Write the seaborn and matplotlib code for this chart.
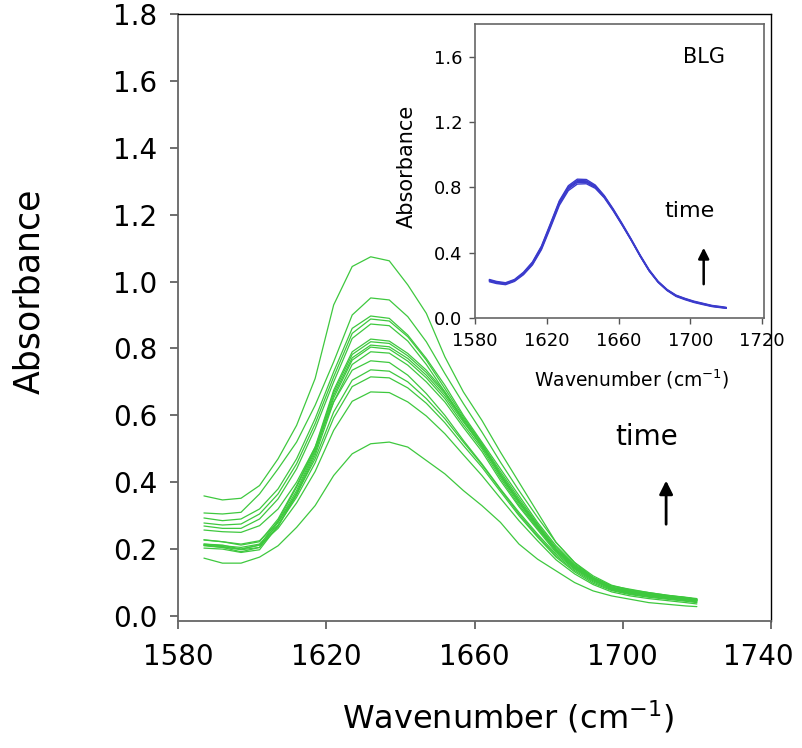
import numpy as np
import pandas as pd
import matplotlib
matplotlib.use("Agg")
import matplotlib.pyplot as plt
from matplotlib.transforms import ScaledTranslation
import seaborn as sns

sns.set_theme(style="white")
plt.rcParams["font.family"] = ["DejaVu Sans"]
plt.rcParams["text.color"] = "black"
plt.rcParams["axes.labelcolor"] = "black"

# ---------------- data ----------------
wavenumber = [1587, 1592, 1597, 1602, 1607, 1612, 1617, 1622, 1627, 1632, 1637, 1642, 1647, 1652,
              1657, 1662, 1667, 1672, 1677, 1682, 1687, 1692, 1697, 1702, 1707, 1712, 1717, 1720]

green_A = [0.359, 0.347, 0.352, 0.390, 0.470, 0.570, 0.710, 0.930, 1.045, 1.074, 1.062, 0.990, 0.905, 0.775,
           0.670, 0.585, 0.490, 0.400, 0.310, 0.220, 0.160, 0.115, 0.090, 0.080, 0.070, 0.062, 0.055, 0.050]
green_B = [0.308, 0.305, 0.310, 0.365, 0.440, 0.520, 0.630, 0.760, 0.900, 0.951, 0.945, 0.895, 0.820, 0.725,
           0.635, 0.550, 0.460, 0.375, 0.295, 0.220, 0.160, 0.120, 0.092, 0.078, 0.070, 0.062, 0.056, 0.052]
green_C = [0.293, 0.285, 0.290, 0.320, 0.380, 0.470, 0.590, 0.730, 0.860, 0.897, 0.890, 0.840, 0.770, 0.690,
           0.600, 0.520, 0.440, 0.360, 0.280, 0.210, 0.155, 0.115, 0.090, 0.076, 0.066, 0.060, 0.055, 0.050]
green_D = [0.278, 0.272, 0.275, 0.305, 0.365, 0.455, 0.575, 0.715, 0.845, 0.888, 0.882, 0.835, 0.765, 0.680,
           0.595, 0.515, 0.432, 0.352, 0.275, 0.205, 0.152, 0.112, 0.086, 0.074, 0.068, 0.060, 0.052, 0.048]
green_E = [0.269, 0.262, 0.262, 0.290, 0.350, 0.440, 0.560, 0.700, 0.830, 0.873, 0.868, 0.822, 0.752, 0.670,
           0.585, 0.505, 0.425, 0.345, 0.268, 0.200, 0.148, 0.110, 0.085, 0.072, 0.064, 0.058, 0.052, 0.046]
green_F = [0.227, 0.222, 0.212, 0.222, 0.290, 0.390, 0.505, 0.675, 0.790, 0.828, 0.822, 0.785, 0.735, 0.670,
           0.590, 0.515, 0.425, 0.345, 0.272, 0.200, 0.150, 0.115, 0.086, 0.074, 0.066, 0.060, 0.054, 0.050]
green_G = [0.215, 0.212, 0.200, 0.212, 0.285, 0.385, 0.500, 0.668, 0.782, 0.820, 0.815, 0.778, 0.728, 0.665,
           0.585, 0.510, 0.420, 0.340, 0.268, 0.198, 0.148, 0.112, 0.084, 0.072, 0.064, 0.058, 0.052, 0.048]
green_H = [0.210, 0.205, 0.192, 0.205, 0.280, 0.375, 0.495, 0.660, 0.772, 0.810, 0.805, 0.770, 0.720, 0.658,
           0.580, 0.508, 0.418, 0.338, 0.266, 0.196, 0.146, 0.112, 0.084, 0.072, 0.064, 0.058, 0.052, 0.048]
green_I = [0.203, 0.200, 0.190, 0.198, 0.270, 0.368, 0.488, 0.652, 0.765, 0.804, 0.798, 0.762, 0.712, 0.650,
           0.572, 0.500, 0.412, 0.332, 0.262, 0.194, 0.144, 0.110, 0.082, 0.070, 0.062, 0.056, 0.050, 0.046]
green_J = [0.212, 0.208, 0.198, 0.205, 0.268, 0.362, 0.480, 0.640, 0.752, 0.790, 0.786, 0.750, 0.700, 0.640,
           0.564, 0.492, 0.405, 0.327, 0.258, 0.190, 0.142, 0.108, 0.080, 0.068, 0.060, 0.054, 0.048, 0.044]
green_K = [0.257, 0.252, 0.250, 0.270, 0.320, 0.400, 0.505, 0.640, 0.735, 0.763, 0.758, 0.720, 0.665, 0.600,
           0.525, 0.455, 0.380, 0.310, 0.245, 0.185, 0.140, 0.105, 0.082, 0.070, 0.062, 0.056, 0.050, 0.045]
green_L = [0.228, 0.222, 0.215, 0.225, 0.280, 0.365, 0.470, 0.610, 0.705, 0.736, 0.732, 0.700, 0.650, 0.590,
           0.520, 0.452, 0.378, 0.305, 0.240, 0.180, 0.136, 0.102, 0.078, 0.066, 0.058, 0.052, 0.046, 0.042]
green_M = [0.215, 0.210, 0.205, 0.215, 0.272, 0.355, 0.458, 0.592, 0.686, 0.715, 0.712, 0.682, 0.636, 0.578,
           0.510, 0.445, 0.372, 0.300, 0.236, 0.176, 0.132, 0.098, 0.076, 0.064, 0.056, 0.050, 0.044, 0.040]
green_N = [0.212, 0.205, 0.200, 0.212, 0.262, 0.338, 0.432, 0.555, 0.642, 0.670, 0.668, 0.640, 0.598, 0.545,
           0.482, 0.420, 0.352, 0.285, 0.225, 0.168, 0.126, 0.094, 0.072, 0.060, 0.052, 0.046, 0.040, 0.036]
green_O = [0.173, 0.158, 0.158, 0.176, 0.210, 0.265, 0.330, 0.420, 0.485, 0.515, 0.520, 0.505, 0.465, 0.425,
           0.375, 0.330, 0.280, 0.215, 0.170, 0.135, 0.100, 0.075, 0.060, 0.050, 0.040, 0.035, 0.030, 0.028]

inset_wavenumber = [1588, 1592, 1597, 1602, 1607, 1612, 1617, 1622, 1627, 1632, 1637, 1642, 1647, 1652,
                    1657, 1662, 1667, 1672, 1677, 1682, 1687, 1692, 1697, 1702, 1707, 1712, 1717, 1720]
blue_1 = [0.227, 0.215, 0.208, 0.228, 0.270, 0.330, 0.425, 0.560, 0.700, 0.790, 0.830, 0.830, 0.800, 0.740,
          0.660, 0.570, 0.478, 0.380, 0.290, 0.220, 0.170, 0.135, 0.115, 0.098, 0.085, 0.072, 0.065, 0.061]
blue_2 = [0.232, 0.220, 0.212, 0.232, 0.276, 0.338, 0.435, 0.572, 0.712, 0.802, 0.842, 0.840, 0.808, 0.746,
          0.664, 0.574, 0.480, 0.382, 0.292, 0.222, 0.172, 0.138, 0.118, 0.100, 0.088, 0.075, 0.068, 0.063]
blue_3 = [0.222, 0.211, 0.204, 0.224, 0.265, 0.325, 0.418, 0.552, 0.690, 0.780, 0.820, 0.822, 0.794, 0.736,
          0.656, 0.568, 0.476, 0.378, 0.288, 0.218, 0.168, 0.132, 0.112, 0.095, 0.082, 0.070, 0.063, 0.059]
blue_4 = [0.236, 0.224, 0.216, 0.236, 0.280, 0.343, 0.440, 0.578, 0.718, 0.810, 0.850, 0.848, 0.814, 0.750,
          0.668, 0.578, 0.484, 0.386, 0.296, 0.225, 0.175, 0.140, 0.120, 0.103, 0.090, 0.077, 0.070, 0.065]
blue_5 = [0.230, 0.217, 0.210, 0.230, 0.273, 0.334, 0.430, 0.566, 0.706, 0.796, 0.836, 0.835, 0.804, 0.743,
          0.662, 0.572, 0.479, 0.381, 0.291, 0.221, 0.171, 0.136, 0.116, 0.099, 0.086, 0.073, 0.066, 0.062]

main_ticks_x = [1580, 1620, 1660, 1700, 1740]
main_ticks_y = [0.0, 0.2, 0.4, 0.6, 0.8, 1.0, 1.2, 1.4, 1.6, 1.8]
inset_ticks_x = [1580, 1620, 1660, 1700, 1740]
inset_ticklabels_x = ["1580", "1620", "1660", "1700", "1720"]
inset_ticks_y = [0.0, 0.4, 0.8, 1.2, 1.6]

# ---------------- tables ----------------
green_series = [green_A, green_B, green_C, green_D, green_E, green_F, green_G, green_H,
                green_I, green_J, green_K, green_L, green_M, green_N, green_O]
df_main = pd.concat([pd.DataFrame({"wn": wavenumber, "abs": s, "curve": i})
                     for i, s in enumerate(green_series)], ignore_index=True)
blue_series = [blue_1, blue_2, blue_3, blue_4, blue_5]
df_inset = pd.concat([pd.DataFrame({"wn": inset_wavenumber, "abs": s, "curve": i})
                      for i, s in enumerate(blue_series)], ignore_index=True)

GREEN = "#3ec83e"
BLUE = "#3b3bcc"
W, H = 802, 748

fig = plt.figure(figsize=(W / 100, H / 100), dpi=100)
fig.patch.set_facecolor("white")

# main axes
ax = fig.add_axes([178 / W, 1 - 621 / H, (771 - 178) / W, (621 - 14) / H])
sns.lineplot(data=df_main, x="wn", y="abs", units="curve", estimator=None,
             color=GREEN, lw=0.9, ax=ax, legend=False)
ax.set_xlim(1580, 1740)
ax.set_ylim(-0.015, 1.8)
ax.set_xticks(main_ticks_x)
ax.set_xticklabels([str(t) for t in main_ticks_x])
ax.set_yticks(main_ticks_y)
ax.set_yticklabels([f"{t:.1f}" for t in main_ticks_y])
ax.tick_params(axis="both", direction="out", length=6, width=1.2, color="#555555",
               labelcolor="black", labelsize=20, left=True, bottom=True)
ax.tick_params(axis="x", pad=10)
ax.tick_params(axis="y", pad=9)
# last x label sits slightly left of its tick, as in the reference
last_lbl = ax.get_xticklabels()[-1]
last_lbl.set_transform(last_lbl.get_transform() + ScaledTranslation(-0.13, 0, fig.dpi_scale_trans))
for side in ["left", "bottom"]:
    ax.spines[side].set_color("#666666")
    ax.spines[side].set_linewidth(1.3)
for side in ["top", "right"]:
    ax.spines[side].set_color("black")
    ax.spines[side].set_linewidth(1.0)
ax.set_xlabel(r"Wavenumber (cm$^{-1}$)", fontsize=23, color="black")
ax.set_ylabel("Absorbance", fontsize=25, color="black")
ax.xaxis.set_label_coords((508 - 178) / 593, (621 - 699) / 607)
ax.yaxis.set_label_coords((46 - 178) / 593, (621 - 291) / 607)
ax.text(1706.5, 0.535, "time", fontsize=20, ha="center", va="center", color="black")
ax.annotate("", xy=(1711.7, 0.413), xytext=(1711.7, 0.266),
            arrowprops=dict(arrowstyle="-|>", color="black", lw=2, mutation_scale=20))

# inset axes
axin = fig.add_axes([475 / W, 1 - 318 / H, (764 - 475) / W, (318 - 24) / H])
axin.set_facecolor("white")
sns.lineplot(data=df_inset, x="wn", y="abs", units="curve", estimator=None,
             color=BLUE, lw=1.0, ax=axin, legend=False)
axin.set_xlim(1580, 1741)
axin.set_ylim(0.0, 1.8)
axin.set_xticks(inset_ticks_x)
axin.set_xticklabels(inset_ticklabels_x)
axin.set_yticks(inset_ticks_y)
axin.set_yticklabels([f"{t:.1f}" for t in inset_ticks_y])
axin.tick_params(axis="both", direction="out", length=4, width=1.0, color="#555555",
                 labelcolor="black", labelsize=13, left=True, bottom=True)
axin.tick_params(axis="x", pad=6)
axin.tick_params(axis="y", pad=5)
for side in axin.spines:
    axin.spines[side].set_color("#666666")
    axin.spines[side].set_linewidth(1.2)
axin.set_xlabel(r"Wavenumber (cm$^{-1}$)", fontsize=13.5, color="black")
axin.set_ylabel("Absorbance", fontsize=15, color="black")
axin.xaxis.set_label_coords((632 - 475) / 289, (318 - 368) / 294)
axin.yaxis.set_label_coords((417 - 475) / 289, (318 - 166) / 294)
axin.text(1707.5, 1.60, "BLG", fontsize=15, ha="center", va="center", color="black")
axin.text(1699.7, 0.655, "time", fontsize=16, ha="center", va="center", color="black")
axin.annotate("", xy=(1707.4, 0.447), xytext=(1707.4, 0.19),
              arrowprops=dict(arrowstyle="-|>", color="black", lw=1.8, mutation_scale=16))

fig.savefig("out.png", dpi=100, facecolor="white")
